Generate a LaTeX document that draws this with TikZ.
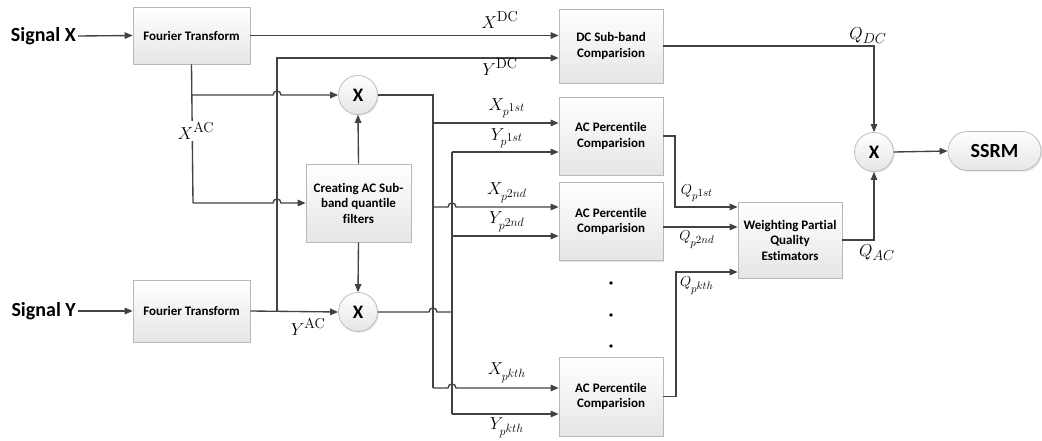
\documentclass[tikz,border=0pt]{standalone}
\usepackage[no-math]{fontspec}
\setmainfont{Carlito}[Ligatures=NoCommon]
\usetikzlibrary{arrows.meta,shadows,shapes.misc,calc}
\newcommand{\sbs}[1]{{\scriptstyle #1}}
\begin{document}
\begin{tikzpicture}[x=1pt,y=-1pt,
  wire/.style={draw=black!74, line width=1.35pt},
  arr/.style={wire, -{Triangle[length=8pt,width=6.5pt]}},
  shade/.style={draw=black!28, line width=0.7pt, top color=white, bottom color=black!10,
    drop shadow={shadow xshift=1.2pt, shadow yshift=-1.2pt, opacity=0.22}},
  blk/.style={shade, font=\bfseries\fontsize{13}{15.5}\selectfont, align=center, inner sep=0pt},
  mult/.style={shade, circle, minimum size=39pt, inner sep=0pt, font=\bfseries\fontsize{19}{22}\selectfont},
  sig/.style={font=\bfseries\fontsize{20}{24}\selectfont, inner sep=2pt},
  lbl/.style={font=\fontsize{19}{22}\selectfont, inner sep=1pt},
  slbl/.style={font=\fontsize{16.5}{19}\selectfont, inner sep=1pt},
  qlbl/.style={font=\fontsize{15}{18}\selectfont, inner sep=1pt},
  dot/.style={circle, fill=black, inner sep=0pt, minimum size=3.8pt}]
\useasboundingbox (0,0) rectangle (1042,441);

% blocks
\node[sig, anchor=east] (sx) at (78,36) {Signal X};
\node[sig, anchor=east] (sy) at (78,311) {Signal Y};
\node[blk, minimum width=117pt, minimum height=57pt] (ft1) at (191.5,35.5) {Fourier Transform};
\node[blk, minimum width=117pt, minimum height=62pt] (ft2) at (191.5,311) {Fourier Transform};
\node[blk, minimum width=105pt, minimum height=78pt] (cr) at (358.5,203) {Creating AC Sub-\\band quantile\\filters};
\node[mult] (m1) at (358,95) {X};
\node[mult] (m2) at (358,312) {X};
\node[blk, minimum width=104pt, minimum height=74pt] (dc) at (611,46) {DC Sub-band\\Comparision};
\node[blk, minimum width=104pt, minimum height=78pt] (ac1) at (611,136) {AC Percentile\\Comparision};
\node[blk, minimum width=104pt, minimum height=78pt] (ac2) at (611,221.5) {AC Percentile\\Comparision};
\node[blk, minimum width=104pt, minimum height=79pt] (ac3) at (611,396.5) {AC Percentile\\Comparision};
\node[blk, minimum width=104pt, minimum height=76pt] (w) at (790,240) {Weighting Partial\\Quality\\Estimators};
\node[mult] (m3) at (874,152) {X};
\node[shade, rounded rectangle, minimum width=93pt, minimum height=39pt, inner sep=0pt,
  font=\bfseries\fontsize{20}{24}\selectfont] (ssrm) at (994.5,151) {SSRM};

\node[dot] (d1) at (611,283) {};
\node[dot] (d2) at (611,315) {};
\node[dot] (d3) at (611,346) {};

% bus coordinates
\coordinate (xa) at (193,95);
\coordinate (xb) at (193,203);
\coordinate (ydcT) at (277,58);
\coordinate (ydcB) at (277,311);
\coordinate (xbT) at (433,95);
\coordinate (xbB) at (433,388);
\coordinate (ybT) at (452,152);
\coordinate (ybB) at (452,414);

% inputs
\draw[arr] (sx.east) -- (ft1.west);
\draw[arr] (sy.east) -- (ft2.west);
\draw[arr] (ft1.east) -- (dc.west |- ft1.east);

% X^AC branch
\draw[wire] (ft1.south) -- (xb);
\draw[arr] (ft1.south |- xa) -- (273,95) .. controls (273,89.7) and (281,89.7) .. (281,95) -- (m1.west);
\draw[arr] (xb) -- (273,203) .. controls (273,197.7) and (281,197.7) .. (281,203) -- (cr.west);

% Y branch
\draw[arr] (ft2.east) -- (m2.west);
\draw[arr] (ydcB) -- (ydcT) -- (dc.west |- ydcT);

% filters to multipliers
\draw[arr] (cr.north) -- (m1.south);
\draw[arr] (cr.south) -- (m2.north);

% X bus
\draw[wire] (m1.east) -- (xbT) -- (xbB);
\draw[arr] (xbT |- 0,123) -- (ac1.west |- 0,123);
\draw[arr] (xbT |- 0,207) -- (448,207) .. controls (448,201.7) and (456,201.7) .. (456,207) -- (ac2.west |- 0,207);
\draw[arr] (xbB) -- (448,388) .. controls (448,382.7) and (456,382.7) .. (456,388) -- (ac3.west |- xbB);

% Y bus
\draw[wire] (m2.east) -- (429,312) .. controls (429,306.7) and (437,306.7) .. (437,312) -- (ybT |- 0,312);
\draw[wire] (ybT) -- (ybB);
\draw[arr] (ybT) -- (ac1.west |- ybT);
\draw[arr] (ybT |- 0,236) -- (ac2.west |- 0,236);
\draw[arr] (ybB) -- (ac3.west |- ybB);

% Q paths
\draw[arr] (ac1.east) -- (675,136) -- (675,207) -- (w.west |- 0,207);
\draw[arr] (ac2.east |- 0,227) -- (w.west |- 0,227);
\draw[arr] (ac3.east) -- (676,396.5) -- (676,272) -- (w.west |- 0,272);
\draw[arr] (dc.east) -| (m3.north);
\draw[arr] (w.east) -| (m3.south);
\draw[arr] (m3.east) -- (ssrm.west);

% labels
\node[lbl, fill=white, inner sep=1.5pt] (lxac) at (196,131) {$X^{\mathrm{AC}}$};
\node[lbl] (lyac) at (308,327) {$Y^{\mathrm{AC}}$};
\node[lbl] (lxdc) at (500,20) {$X^{\mathrm{DC}}$};
\node[lbl] (lydc) at (500,67) {$Y^{\mathrm{DC}}$};
\node[slbl] (lx1) at (507,108) {$X_{p^{\sbs{1st}}}$};
\node[slbl] (ly1) at (507,138) {$Y_{p^{\sbs{1st}}}$};
\node[slbl] (lx2) at (507,193) {$X_{p^{\sbs{2nd}}}$};
\node[slbl] (ly2) at (507,222) {$Y_{p^{\sbs{2nd}}}$};
\node[slbl] (lxk) at (507,373) {$X_{p^{\sbs{kth}}}$};
\node[slbl] (lyk) at (507,428) {$Y_{p^{\sbs{kth}}}$};
\node[qlbl] (lq1) at (697,193) {$Q_{p^{\sbs{1st}}}$};
\node[qlbl] (lq2) at (697,240) {$Q_{p^{\sbs{2nd}}}$};
\node[qlbl] (lqk) at (697,286) {$Q_{p^{\sbs{kth}}}$};
\node[lbl] (lqdc) at (868,36) {$Q_{DC}$};
\node[lbl] (lqac) at (877,253) {$Q_{AC}$};
\end{tikzpicture}
\end{document}
